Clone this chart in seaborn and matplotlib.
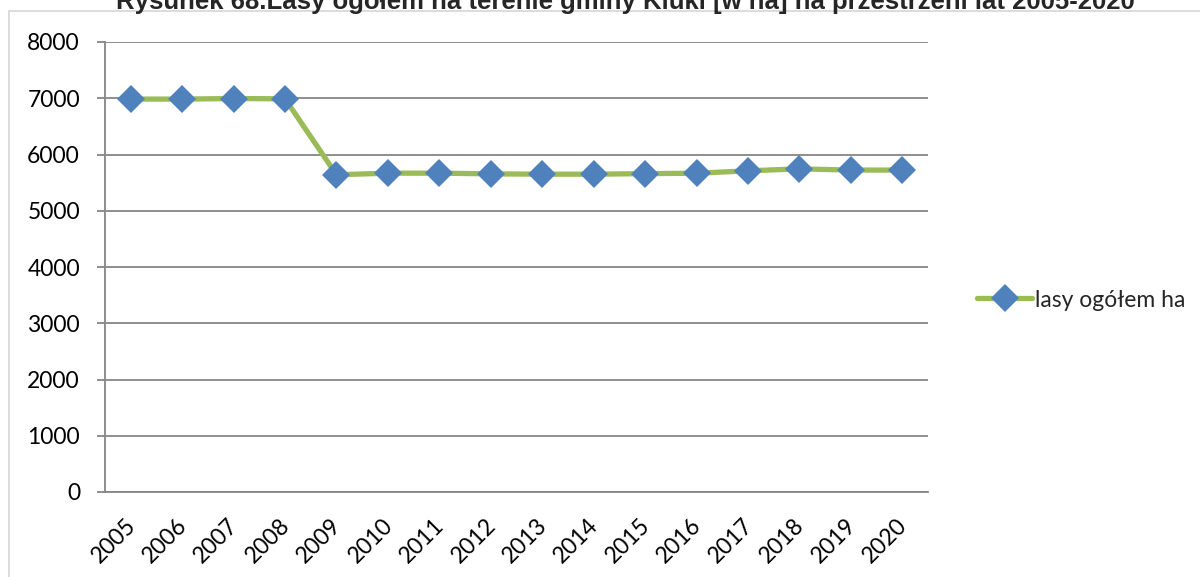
import matplotlib
matplotlib.use("Agg")
import matplotlib.pyplot as plt
import matplotlib.transforms as mtransforms
import seaborn as sns
import pandas as pd
from matplotlib.lines import Line2D
from matplotlib.patches import Rectangle

years = [2005, 2006, 2007, 2008, 2009, 2010, 2011, 2012, 2013, 2014, 2015, 2016, 2017, 2018, 2019, 2020]
lasy_ha = [6985, 6985, 6995, 6990, 5640, 5668, 5668, 5656, 5650, 5650, 5660, 5667, 5710, 5745, 5723, 5723]
series_name = "lasy ogółem ha"
title = "Rysunek 68.Lasy ogółem na terenie gminy Kluki [w ha] na przestrzeni lat 2005-2020"
y_ticks = [0, 1000, 2000, 3000, 4000, 5000, 6000, 7000, 8000]

df = pd.DataFrame({"rok": years, "ha": lasy_ha})

sns.set_theme(style="white")
plt.rcParams["font.family"] = ["Lato", "DejaVu Sans"]

fig = plt.figure(figsize=(12, 5.77), dpi=100)
ax = fig.add_axes([105/1200, 85/577, 823/1200, 450/577])

line_c = "#9BBB59"
mark_c = "#4F81BD"
grid_c = "#868686"
fs = 16.5

ax.set_axisbelow(True)
for v in y_ticks:
    ax.axhline(v, color=grid_c, lw=1.3, zorder=0)

sns.lineplot(data=df, x="rok", y="ha", ax=ax, color=line_c, lw=3.8,
             marker="D", markersize=14, markerfacecolor=mark_c,
             markeredgecolor=mark_c, markeredgewidth=0, legend=False, zorder=3)

ax.set_xlim(years[0] - 0.5, years[-1] + 0.5)
ax.set_ylim(0, 8000)
ax.set_yticks(y_ticks)
ax.set_yticklabels([str(v) for v in y_ticks], fontsize=fs, color="black")
ax.set_xticks(years)
ax.set_xticklabels([str(y) for y in years], rotation=45, ha="right",
                   rotation_mode="anchor", fontsize=fs, color="black")
ax.set_xticks([y + 0.5 for y in [years[0] - 1] + years], minor=True)
ax.tick_params(axis="x", which="major", length=0, pad=16)
ax.tick_params(axis="x", which="minor", length=6, width=1.3, color=grid_c, direction="out")
ax.tick_params(axis="y", length=6, width=1.3, color=grid_c, direction="out", pad=12, left=True)
offset = mtransforms.ScaledTranslation(-6/100, 0, fig.dpi_scale_trans)
for lab in ax.get_xticklabels():
    lab.set_transform(lab.get_transform() + offset)
ax.set_xlabel("")
ax.set_ylabel("")
for s in ["top", "right"]:
    ax.spines[s].set_visible(False)
for s in ["left", "bottom"]:
    ax.spines[s].set_color(grid_c)
    ax.spines[s].set_linewidth(1.3)

handle = Line2D([], [], color=line_c, lw=3.8, marker="D", markersize=14,
                markerfacecolor=mark_c, markeredgecolor=mark_c, markeredgewidth=0)
fig.legend([handle], [series_name], loc="center left",
           bbox_to_anchor=(966/1200, 1 - 300/577), frameon=False,
           fontsize=fs, handlelength=2.4, handletextpad=0.1, borderpad=0)

fig.patches.append(Rectangle((9/1200, -0.1), 1.2, 1 - 11/577 + 0.1,
                             transform=fig.transFigure, fill=False,
                             edgecolor="#D9D9D9", lw=1.3))

fig.text(625/1200, 1 - 9/577, title, ha="center", va="baseline",
         fontsize=18.5, fontweight="bold", family=["Liberation Sans", "DejaVu Sans"])

fig.savefig("out.png", dpi=100, facecolor="white")
